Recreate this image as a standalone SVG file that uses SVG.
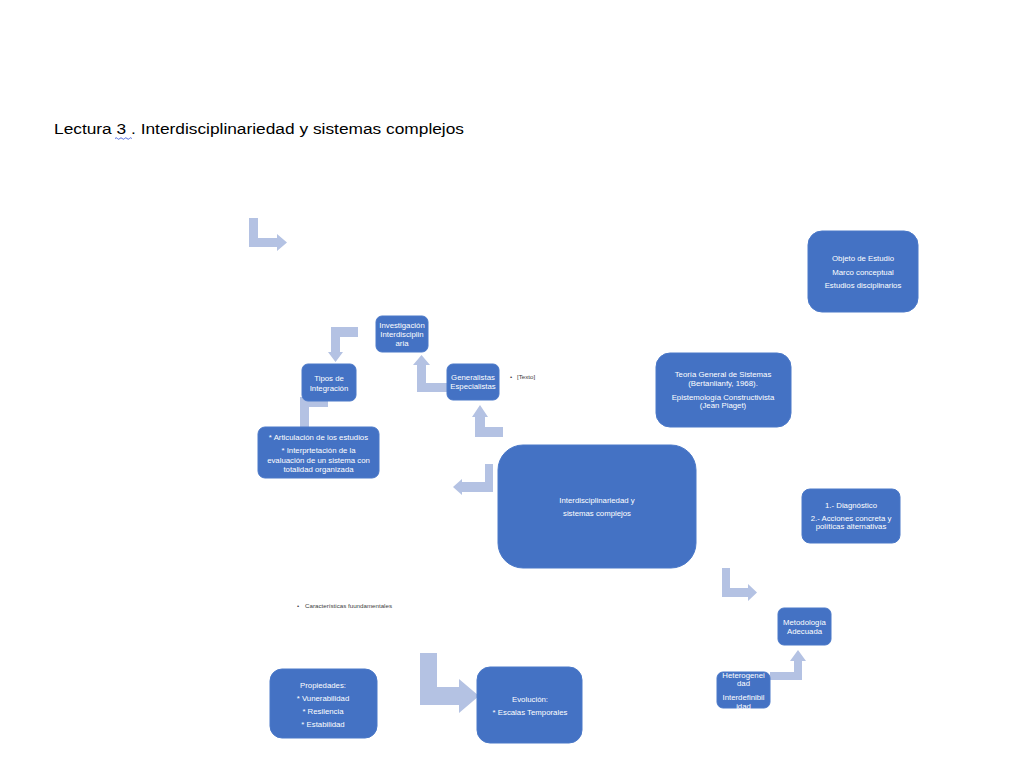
<svg xmlns="http://www.w3.org/2000/svg" width="1024" height="768" viewBox="0 0 1024 768">
<defs>
<style>
.bx{fill:#4472c4;stroke:#4a78c8;stroke-width:1}
.t{font-family:"Liberation Sans",Arial,sans-serif;font-size:7.8px;fill:#ffffff;text-anchor:middle}
.ar{fill:#b4c2e3}
.note{font-family:"Liberation Sans",Arial,sans-serif;font-size:6.2px;fill:#404040}
.title{font-family:"Liberation Sans",Arial,sans-serif;font-size:15.5px;fill:#000000}
</style>
</defs>
<rect width="1024" height="768" fill="#ffffff"/>
<g id="title">
<text class="title" x="54" y="134" textLength="410" lengthAdjust="spacingAndGlyphs">Lectura 3 . Interdisciplinariedad y sistemas complejos</text>
<path d="M115,138.5 q1.2,-1.5 2.4,0 t2.4,0 t2.4,0 t2.4,0 t2.4,0 t2.4,0 t2.4,0" fill="none" stroke="#3b5bdb" stroke-width="0.9"/>
</g>
<g id="connectors">
<polygon class="ar" points="249,218 258,218 258,238 277,238 277,234 287,242.5 277,251 277,247 249,247"/>
<polygon class="ar" points="358,327 358,337 340,337 340,352 343,352 335.5,362 328,352 331,352 331,327"/>
<polygon class="ar" points="328,397 328,407 309,407 309,430 300,430 300,397"/>
<polygon class="ar" points="447,383 447,392 417,392 417,365 413,365 421.5,355 430,365 426,365 426,383"/>
<polygon class="ar" points="503,427 503,437 475,437 475,417 472,417 480,405 488,417 485,417 485,427"/>
<polygon class="ar" points="485,464 493,464 493,492 462,492 462,495 453,487 462,479 462,482 485,482"/>
<polygon class="ar" points="722,568 730,568 730,588 748,588 748,584 757,592.5 748,601 748,597 722,597"/>
<polygon class="ar" points="770,672 794,672 794,661 790,661 798,650 806,661 802,661 802,680 770,680"/>
<polygon class="ar" points="420,653 437,653 437,687 459,687 459,679 479,696 459,713 459,705 420,705"/>
</g>
<g id="objeto">
<rect class="bx" x="808" y="231" width="110" height="81" rx="14"/>
<text class="t" x="863" y="260.5">Objeto de Estudio</text>
<text class="t" x="863" y="274.5">Marco conceptual</text>
<text class="t" x="863" y="287.5">Estudios disciplinarios</text>
</g>
<g id="investigacion">
<rect class="bx" x="376" y="316" width="52" height="36" rx="6"/>
<text class="t" x="402" y="327.5">Investigación</text>
<text class="t" x="402" y="337">Interdisciplin</text>
<text class="t" x="402" y="346">aria</text>
</g>
<g id="tipos">
<rect class="bx" x="302" y="364" width="54" height="37" rx="6"/>
<text class="t" x="329" y="380.5">Tipos de</text>
<text class="t" x="329" y="391">Integración</text>
</g>
<g id="generalistas">
<rect class="bx" x="447" y="364" width="52" height="36" rx="6"/>
<text class="t" x="473" y="379.5">Generalistas</text>
<text class="t" x="473" y="389">Especialistas</text>
</g>
<g id="texto-note">
<text class="note" x="510" y="379">•</text>
<text class="note" x="517" y="379">[Texto]</text>
</g>
<g id="articulacion">
<rect class="bx" x="258" y="427" width="121" height="51" rx="7"/>
<text class="t" x="318.5" y="440">* Articulación  de los estudios</text>
<text class="t" x="318.5" y="452.5">* Interprtetación de la</text>
<text class="t" x="318.5" y="462.5">evaluación  de un sistema  con</text>
<text class="t" x="318.5" y="472">totalidad organizada</text>
</g>
<g id="teoria">
<rect class="bx" x="656" y="353" width="135" height="74" rx="14"/>
<text class="t" x="723" y="376.5">Teoría General de Sistemas</text>
<text class="t" x="723" y="385.5">(Bertanlianfy, 1968).</text>
<text class="t" x="723" y="399.5">Epistemología  Constructivista</text>
<text class="t" x="723" y="408">(Jean Piaget)</text>
</g>
<g id="central">
<rect class="bx" x="498" y="445" width="198" height="123" rx="25"/>
<text class="t" x="597" y="502.5">Interdisciplinariedad y</text>
<text class="t" x="597" y="515.5">sistemas complejos</text>
</g>
<g id="diagnostico">
<rect class="bx" x="802" y="489" width="98" height="54" rx="8"/>
<text class="t" x="851" y="507.5">1.- Diagnóstico</text>
<text class="t" x="851" y="520.5">2.- Acciones concreta y</text>
<text class="t" x="851" y="529">políticas alternativas</text>
</g>
<g id="metodologia">
<rect class="bx" x="778" y="608" width="53" height="37" rx="6"/>
<text class="t" x="804.5" y="624.5">Metodología</text>
<text class="t" x="804.5" y="633.5">Adecuada</text>
</g>
<g id="heterogeneidad">
<rect class="bx" x="717" y="672" width="53" height="36" rx="6"/>
<text class="t" x="743.5" y="677.5">Heterogenei</text>
<text class="t" x="743.5" y="686">dad</text>
<text class="t" x="743.5" y="699.5">Interdefinibil</text>
<text class="t" x="743.5" y="708.5">idad</text>
</g>
<g id="caracteristicas-note">
<text class="note" x="297" y="608">•</text>
<text class="note" x="305" y="608">Características fuundamentales</text>
</g>
<g id="propiedades">
<rect class="bx" x="270" y="669" width="107" height="69" rx="12"/>
<text class="t" x="323" y="687.5">Propiedades:</text>
<text class="t" x="323" y="701">* Vunerabilidad</text>
<text class="t" x="323" y="714">* Resilencia</text>
<text class="t" x="323" y="727">* Estabilidad</text>
</g>
<g id="evolucion">
<rect class="bx" x="477" y="667" width="105" height="76" rx="13"/>
<text class="t" x="530" y="701.5">Evolución:</text>
<text class="t" x="530" y="714.5">* Escalas Temporales</text>
</g>
</svg>
